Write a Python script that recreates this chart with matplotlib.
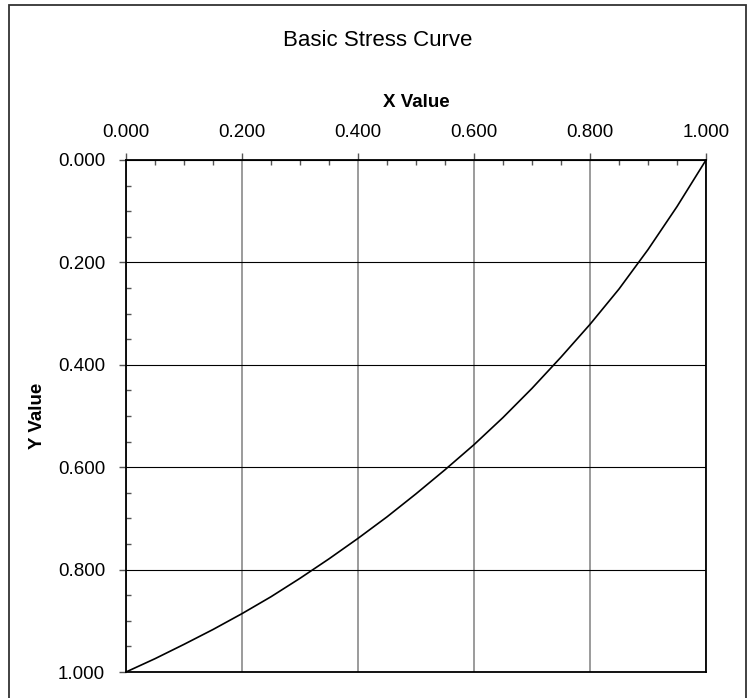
import matplotlib
matplotlib.use("Agg")
import matplotlib.pyplot as plt
from matplotlib.patches import Rectangle
from matplotlib.ticker import MultipleLocator, FormatStrFormatter

# values
x_value = [0.00, 0.05, 0.10, 0.15, 0.20, 0.25, 0.30, 0.35, 0.40, 0.45, 0.50,
           0.55, 0.60, 0.65, 0.70, 0.75, 0.80, 0.85, 0.90, 0.95, 1.00]
y_value = [1.000, 0.974, 0.946, 0.917, 0.886, 0.853, 0.817, 0.779, 0.739, 0.697, 0.652,
           0.605, 0.556, 0.503, 0.446, 0.385, 0.321, 0.252, 0.175, 0.091, 0.000]

TITLE = "Basic Stress Curve"
X_LABEL = "X Value"
Y_LABEL = "Y Value"

plt.rcParams["font.family"] = ["Liberation Sans", "DejaVu Sans"]

W, H = 754, 698
fig = plt.figure(figsize=(W / 100, H / 100), dpi=100)


def px(x0, y0, x1, y1):
    # pixel box -> figure fraction [left, bottom, width, height]
    return [x0 / W, 1 - y1 / H, (x1 - x0) / W, (y1 - y0) / H]


ax = fig.add_axes(px(126, 160, 706, 672))

ax.plot(x_value, y_value, color="black", lw=1.2, solid_joinstyle="round", zorder=3)

ax.set_xlim(0, 1)
ax.set_ylim(1, 0)  # inverted: 0 at top
ax.xaxis.tick_top()

ax.xaxis.set_major_locator(MultipleLocator(0.2))
ax.yaxis.set_major_locator(MultipleLocator(0.2))
ax.xaxis.set_minor_locator(MultipleLocator(0.05))
ax.yaxis.set_minor_locator(MultipleLocator(0.05))
ax.xaxis.set_major_formatter(FormatStrFormatter("%.3f"))
ax.yaxis.set_major_formatter(FormatStrFormatter("%.3f"))

ax.tick_params(which="major", direction="out", length=5, width=1, color="#555555",
               labelsize=13.5, top=True, bottom=False, left=True, right=False)
ax.tick_params(axis="x", which="major", pad=9)
ax.tick_params(axis="y", which="major", pad=10)
ax.tick_params(which="minor", direction="in", length=3.5, width=1, color="#555555",
               top=True, bottom=False, left=True, right=False)

ax.grid(axis="x", which="major", color="#808080", lw=1.1)
ax.grid(axis="y", which="major", color="black", lw=0.8)
ax.set_axisbelow(True)

for s in ax.spines.values():
    s.set_color("black")
    s.set_linewidth(1.3)

# titles / labels placed at pixel positions
fig.text(378 / W, 1 - 46.5 / H, TITLE, ha="center", va="baseline", fontsize=16)
fig.text(416 / W, 1 - 107 / H, X_LABEL, ha="center", va="baseline",
         fontsize=13.5, fontweight="bold")
fig.text(37 / W, 1 - 416 / H, Y_LABEL, ha="center", va="center",
         fontsize=13.5, fontweight="bold", rotation=90)

# outer chart frame (bottom edge runs off the image)
fig.patches.append(Rectangle((8.5 / W, -0.05), (746 - 8.5) / W, 1.05 - 5.5 / H,
                             transform=fig.transFigure, fill=False,
                             edgecolor="#333333", lw=1.3))

fig.savefig("out.png", dpi=100)
